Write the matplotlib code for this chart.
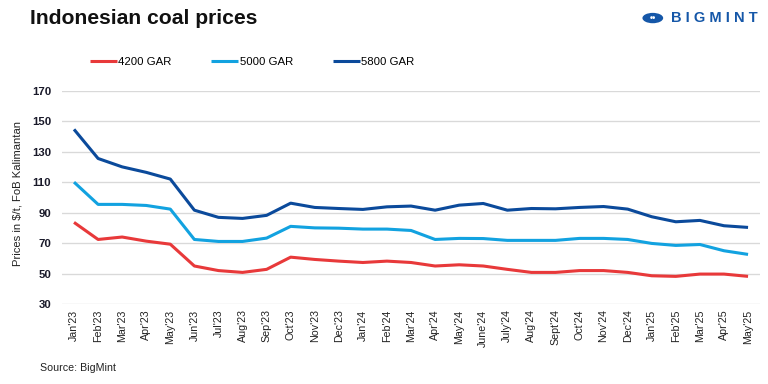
import matplotlib
matplotlib.use("Agg")
import matplotlib.pyplot as plt
from matplotlib.patches import Circle

plt.rcParams['font.family'] = ['Liberation Sans', 'DejaVu Sans']

months = ["Jan'23", "Feb'23", "Mar'23", "Apr'23", "May'23", "Jun'23", "Jul'23", "Aug'23",
          "Sep'23", "Oct'23", "Nov'23", "Dec'23", "Jan'24", "Feb'24", "Mar'24", "Apr'24",
          "May'24", "June'24", "July'24", "Aug'24", "Sept'24", "Oct'24", "Nov'24", "Dec'24",
          "Jan'25", "Feb'25", "Mar'25", "Apr'25", "May'25"]

gar4200 = [83.6, 72.4, 74.0, 71.3, 69.3, 55.0, 52.0, 50.8, 52.8, 60.8, 59.3, 58.2, 57.3, 58.2,
           57.3, 55.0, 55.8, 55.0, 52.8, 50.8, 50.8, 52.0, 52.0, 50.8, 48.6, 48.2, 49.7, 49.7, 48.2]
gar5000 = [110.0, 95.4, 95.4, 94.7, 92.3, 72.4, 71.1, 71.1, 73.3, 81.0, 80.0, 79.8, 79.2, 79.2,
           78.3, 72.4, 73.1, 73.0, 71.8, 71.8, 71.8, 73.1, 73.1, 72.4, 69.8, 68.5, 69.1, 65.0, 62.6]
gar5800 = [144.6, 125.5, 120.0, 116.4, 112.0, 91.6, 86.9, 86.2, 88.2, 96.2, 93.4, 92.7, 92.1, 93.8,
           94.3, 91.6, 94.9, 96.0, 91.6, 92.7, 92.5, 93.4, 94.0, 92.3, 87.3, 84.0, 84.9, 81.4, 80.3]

series = [("4200 GAR", gar4200, "#e8393a"),
          ("5000 GAR", gar5000, "#12a2e0"),
          ("5800 GAR", gar5800, "#0b4a9b")]

fig = plt.figure(figsize=(8, 4), dpi=96)
ax = fig.add_axes([0.0807, 0.208, 0.909, 0.556])

x = list(range(len(months)))
for name, vals, col in series:
    ax.plot(x, vals, color=col, linewidth=2.3, label=name, solid_capstyle='butt')

ax.set_xlim(-0.5, len(months) - 0.5)
ax.set_ylim(30, 170)
ax.set_yticks(range(30, 171, 20))
ax.set_xticks(x)
ax.set_xticklabels(months, rotation=90, fontsize=8, color='#222222')
ax.tick_params(axis='y', labelsize=8.5, colors='#1a1a2a', length=0, pad=8)
for lbl in ax.get_yticklabels():
    lbl.set_fontweight('bold')
ax.tick_params(axis='x', length=0, pad=4)
ax.grid(axis='y', color='#d9d9d9', linewidth=1)
ax.set_axisbelow(True)
for s in ax.spines.values():
    s.set_visible(False)

ax.set_ylabel("Prices in $/t, FoB Kalimantan", fontsize=8.4, color='#222222')
ax.yaxis.set_label_coords(-0.056, 0.52)

fig.text(0.039, 0.953, "Indonesian coal prices", fontsize=15.8, fontweight='bold',
         color='#111111', va='center')
fig.text(0.052, 0.042, "Source: BigMint", fontsize=8, color='#222222', va='center')

ax.legend(loc='center left', bbox_to_anchor=(0.04, 1.133), ncol=3, frameon=False,
          fontsize=8.5, handlelength=2.4, handletextpad=0.1, columnspacing=3.5,
          borderpad=0, borderaxespad=0)

# logo
fig.patches.append(Circle((0.850, 0.953), 0.0135, transform=fig.transFigure,
                          facecolor='#1557a8', edgecolor='none'))
fig.text(0.850, 0.951, "\u2022\u2022", fontsize=7, color='white', ha='center', va='center',
         fontweight='bold')
fig.text(0.874, 0.953, "B I G M I N T", fontsize=11, fontweight='bold', color='#1557a8',
         va='center')

fig.savefig("out.png", dpi=96)
